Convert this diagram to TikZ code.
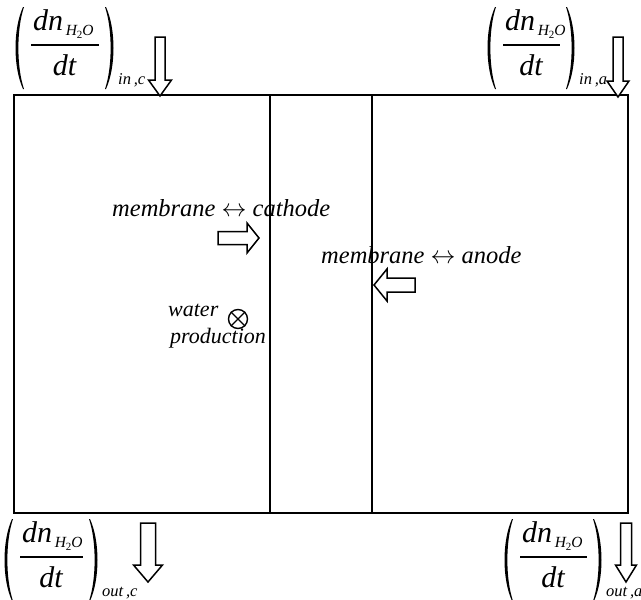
\documentclass[tikz,border=0pt]{standalone}
\usepackage{fontspec}
\setmainfont{Liberation Serif}

\tikzset{
  cell/.style={draw, line width=1.6pt},
  arrowline/.style={draw, fill=white, line width=1.5pt, line join=miter},
  flowlabel/.style={inner sep=0pt, anchor=base west, font=\fontsize{24.5}{29}\selectfont\itshape},
  smalllabel/.style={inner sep=0pt, anchor=base west, font=\fontsize{22}{26}\selectfont\itshape},
  fracpart/.style={inner sep=0pt, font=\fontsize{30}{34}\selectfont\itshape},
  fluxsub/.style={inner sep=0pt, anchor=base west, font=\fontsize{16.5}{20}\selectfont\itshape},
  % hollow block arrow along +x: length, head length, shaft half-width, head half-width
  pics/hollow arrow/.style n args={4}{code={
    \draw[arrowline] (0,-#3) -- ({#1-#2},-#3) -- ({#1-#2},-#4) -- (#1,0)
      -- ({#1-#2},#4) -- ({#1-#2},#3) -- (0,#3) -- cycle;
  }}
}

% (dn_{H2O}/dt)_{sub}: #1 name prefix, #2 left x, #3 top y, #4 width, #5 subscript
\newcommand\fluxterm[5]{%
  \fill ({#2+9},{#3}) .. controls ({#2-1},{#3+22}) and ({#2-1},{#3+60}) .. ({#2+9},{#3+82})
    -- ({#2+10},{#3+82}) .. controls ({#2+2.5},{#3+60}) and ({#2+2.5},{#3+22}) .. ({#2+10},{#3}) -- cycle;
  \fill ({#2+#4-9},{#3}) .. controls ({#2+#4+1},{#3+22}) and ({#2+#4+1},{#3+60}) .. ({#2+#4-9},{#3+82})
    -- ({#2+#4-10},{#3+82}) .. controls ({#2+#4-2.5},{#3+60}) and ({#2+#4-2.5},{#3+22}) .. ({#2+#4-10},{#3}) -- cycle;
  \draw[line width=1.2pt] ({#2+17},{#3+38}) -- ({#2+#4-16},{#3+38});
  \node[fracpart, anchor=base west] (#1num) at ({#2+19},{#3+23})
    {dn\raisebox{-5pt}{\fontsize{15.5}{16}\selectfont\,H\raisebox{-3pt}{\upshape\fontsize{11}{11}\selectfont 2}O}};
  \node[fracpart, anchor=base] (#1den) at ({#2+#4/2},{#3+68}) {dt};
  \node[fluxsub] (#1sub) at ({#2+#4+3},{#3+77}) {#5};
}

\begin{document}
\begin{tikzpicture}[x=1pt,y=-1pt]
\useasboundingbox (0,0) rectangle (641,600);

% cell: cathode | membrane | anode
\draw[cell] (14,95) rectangle (628,513);
\draw[cell] (270,95) -- (270,513);
\draw[cell] (372,95) -- (372,513);

% inlet / outlet arrows
\pic[rotate=-90] at (160,37) {hollow arrow={59}{16}{5}{11.5}};
\pic[rotate=-90] at (618,37) {hollow arrow={60}{16}{5}{11}};
\pic[rotate=-90] at (148,523) {hollow arrow={59}{17}{7.5}{14.5}};
\pic[rotate=-90] at (626,523) {hollow arrow={59}{17}{5.5}{10.5}};

% inlet and outlet flux terms
\fluxterm{inc}{14}{7}{101}{in\,,c}
\fluxterm{ina}{486}{7}{90}{in\,,a}
\fluxterm{outc}{3}{519}{96}{out\,,c}
\fluxterm{outa}{503}{519}{100}{out\,,a}

% membrane exchange
\node[flowlabel] (mc) at (112,216) {membrane $\leftrightarrow$ cathode};
\pic at (218,238) {hollow arrow={41}{12}{6.5}{15}};
\node[flowlabel] (ma) at (321,263) {membrane $\leftrightarrow$ anode};
\pic[rotate=180] at (415,285) {hollow arrow={41}{13}{7}{16}};

% water production source
\node[smalllabel] (wl) at (168,316) {water};
\node[smalllabel] (pl) at (170,343) {production};
\node[circle, draw, line width=1.4pt, minimum size=19pt, inner sep=0pt] (src) at (238,319) {};
\draw[line width=1.4pt] (src.north west) -- (src.south east);
\draw[line width=1.4pt] (src.north east) -- (src.south west);
\end{tikzpicture}
\end{document}
